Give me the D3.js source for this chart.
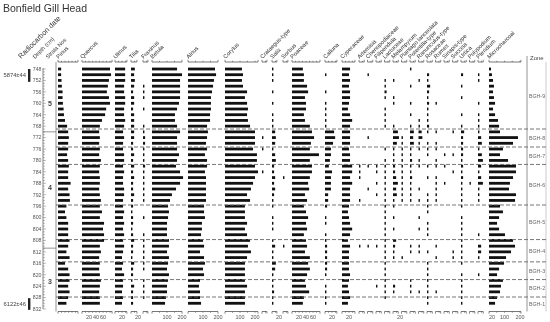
<!DOCTYPE html>
<html><head><meta charset="utf-8">
<script src="https://cdn.jsdelivr.net/npm/d3@7/dist/d3.min.js"></script>
<style>body{margin:0;background:#fff}svg{display:block;font-family:"Liberation Sans",Arial,sans-serif;will-change:transform}</style>
</head><body><svg id="c" width="550" height="322"></svg>
<script>
// ---------- DATA ----------
const depths = [748,750,752,754,756,758,760,762,764,766,768,770,772,774,776,778,780,782,784,786,788,790,792,794,796,798,800,802,804,806,808,810,812,814,816,818,820,822,824,826,828,830];
const depthTicks = [748,752,756,760,764,768,772,776,780,784,788,792,796,800,804,808,812,816,820,824,828,832];
const pinus   = [9,9,10,11,13,13,14,16,17,20,26,29,31,29,29,26,29,31,29,29,36,29,33,34,24,20,24,29,29,29,33,29,24,33,20,29,33,33,29,33,29,24];
const quercus = [80,83,77,74,71,77,80,69,66,57,51,49,51,49,51,49,54,51,49,51,51,49,51,54,51,57,51,63,60,63,63,51,54,49,51,49,51,54,51,49,51,51];
const ulmus   = [29,29,29,26,26,29,29,26,26,29,26,23,26,23,23,26,26,23,26,23,23,26,26,23,23,26,23,26,23,26,23,26,23,20,23,20,26,23,23,20,23,20];
const tilia   = [11,9,11,9,6,9,9,6,9,9,9,9,9,6,6,9,6,9,6,9,6,6,9,6,6,3,6,6,3,6,9,6,6,3,9,6,6,3,9,6,6,6];
const fraxinus= [0,0,0,3,3,3,0,3,0,0,3,3,6,6,3,3,3,6,3,3,3,3,3,3,0,0,3,0,0,3,3,3,3,3,3,3,0,3,3,3,3,0];
const betula  = [167,200,187,187,187,187,180,167,153,153,167,187,167,167,167,180,167,160,187,207,187,160,133,120,107,113,107,100,100,100,113,113,100,113,107,100,113,107,100,100,93,87];
const alnus   = [180,187,173,167,160,153,153,153,147,147,127,133,127,120,127,113,127,127,113,120,120,120,120,120,107,107,113,93,93,87,100,107,80,107,113,100,107,80,73,80,80,87];
const corylus = [113,120,113,120,147,133,147,153,147,153,167,200,200,200,187,213,213,200,220,200,187,173,147,167,133,133,133,147,133,147,167,153,173,147,133,133,133,133,147,133,133,133];
const crataegus=[0,0,0,0,0,0,0,0,0,0,0,0,3,0,3,0,0,0,3,0,0,0,0,0,0,0,0,0,0,0,0,0,0,0,0,0,0,0,0,0,0,0];
const salix   = [3,3,3,0,3,0,3,0,3,3,3,9,11,9,3,9,11,6,6,9,6,9,6,3,3,0,3,3,3,0,3,9,3,3,11,9,3,3,3,6,3,3];
const sorbus  = [0,0,0,0,0,0,0,0,0,0,0,0,0,0,0,0,0,0,0,3,0,0,0,0,0,0,0,0,0,0,0,3,0,0,0,0,0,0,0,0,0,0];
const poaceae = [31,34,34,43,46,37,40,40,34,37,51,57,63,54,51,77,51,57,57,51,46,49,37,43,34,40,46,40,43,34,40,43,37,51,46,51,43,37,40,49,34,31];
const calluna = [0,3,0,0,3,0,3,3,3,3,3,26,29,23,17,17,14,11,20,17,17,17,9,9,6,0,3,3,0,3,3,6,6,6,6,6,3,0,3,3,3,3];
const cyperaceae=[23,20,23,20,23,23,20,17,23,29,23,23,23,23,20,23,23,29,29,23,29,23,23,23,20,17,20,23,29,23,17,23,20,20,20,20,23,20,17,20,23,17];
const artemisia=[0,0,0,0,0,0,0,0,0,0,0,0,0,0,0,0,0,4,4,4,0,0,0,4,0,0,0,0,0,0,0,4,0,0,0,0,0,0,0,0,0,0];
const chenopod= [0,4,0,0,0,0,0,0,0,0,0,0,4,0,0,0,0,4,0,0,0,4,0,0,0,0,0,0,0,0,0,4,0,0,0,0,0,0,0,0,0,0];
const filipendula=[0,0,0,0,0,0,0,0,0,0,0,0,0,0,0,0,0,4,4,0,4,0,4,0,0,0,0,0,0,0,0,4,0,0,0,0,0,0,4,0,0,0];
const lactuceae=[0,0,4,4,6,4,0,4,4,4,4,0,0,0,4,0,4,4,4,4,4,4,4,4,4,4,4,4,4,4,4,4,4,4,4,4,4,4,4,4,4,0];
const melampyrum=[0,0,4,0,0,4,4,0,0,0,4,14,17,11,4,4,4,6,6,9,14,9,11,4,4,0,4,0,4,0,9,6,4,4,0,0,0,0,6,4,0,0];
const plantago= [0,0,0,0,0,0,0,0,0,0,0,0,4,4,4,4,4,4,4,4,4,4,4,4,0,0,0,0,0,0,0,0,0,4,0,0,0,0,0,0,0,0];
const potentilla=[4,0,0,4,0,0,4,0,4,0,4,11,9,11,4,4,6,4,4,6,4,4,4,4,0,0,0,0,0,0,0,4,4,0,0,0,0,4,4,4,0,0];
const ranunculus=[0,0,4,0,0,0,0,0,0,4,4,9,11,4,4,0,4,4,0,0,0,4,0,4,0,0,4,0,4,0,0,4,4,0,0,0,0,0,0,4,0,0];
const rosaceae= [0,6,4,9,6,4,6,4,4,4,6,4,0,4,4,4,0,4,0,4,0,0,4,4,4,4,0,4,4,4,0,0,4,0,4,4,4,4,4,4,4,4];
const rumex   = [0,0,0,0,0,0,4,0,0,0,0,4,0,4,4,0,4,4,0,4,4,4,4,4,0,0,0,0,0,0,0,4,0,4,0,0,0,0,0,4,0,0];
const sinapis = [0,0,0,0,0,0,0,0,0,0,0,0,0,0,0,4,0,4,0,0,4,0,0,0,0,0,0,0,0,0,0,0,0,0,0,0,0,0,0,0,0,0];
const succisa = [0,0,0,0,0,0,0,0,0,0,0,4,0,0,0,4,0,0,4,0,0,0,0,0,0,0,0,0,0,0,0,0,4,4,0,0,0,0,0,0,0,0];
const urtica  = [0,6,0,4,0,4,0,0,4,0,4,9,6,6,6,6,4,6,4,6,4,4,4,4,4,0,4,4,4,4,4,4,4,4,4,0,4,4,4,4,4,4];
const polypodium=[0,0,0,0,0,0,0,0,0,0,0,0,0,0,0,0,0,0,0,0,4,0,0,0,0,0,0,0,0,0,0,0,0,0,0,0,0,0,0,0,0,0];
const pteridium=[0,4,4,0,0,0,4,0,4,4,4,4,9,11,4,11,14,9,4,9,14,4,4,4,0,0,0,0,0,4,0,9,9,4,0,0,4,0,0,0,0,0];
const charcoal= [13,19,26,32,26,32,39,26,39,58,65,71,187,155,90,71,123,174,174,155,135,129,174,168,71,90,65,52,65,103,155,168,142,110,97,65,52,90,77,71,52,39];

const zoneBounds = [769,775.3,781.4,795.6,807.7,815.5,821.7,827.8];
const zoneNames  = ["BGH-9","BGH-8","BGH-7","BGH-6","BGH-5","BGH-4","BGH-3","BGH-2","BGH-1"];
const strataBounds = [770,810.7];
const strataNames  = ["5","4","3"];
const strataLabelDepth = [760,789.6,822.2];
const dates = ["5874±44","6122±46"];
const dateRanges = [[748,752.5],[828.2,832.3]];

// ---------- LAYOUT ----------
const PCT = 0.35, BIG = 0.15, CHR = 0.155; // px per unit
const cols = [
 {n:"Pinus",v:pinus,k:PCT,x0:58,max:57,t:[]},
 {n:"Quercus",v:quercus,k:PCT,x0:82,max:86,t:[20,40,60]},
 {n:"Ulmus",v:ulmus,k:PCT,x0:115,max:34,t:[20]},
 {n:"Tilia",v:tilia,k:PCT,x0:131,max:17,t:[20]},
 {n:"Fraxinus",v:fraxinus,k:PCT,x0:143,max:14,t:[]},
 {n:"Betula",v:betula,k:BIG,x0:152,max:200,t:[100,200]},
 {n:"Alnus",v:alnus,k:BIG,x0:188,max:200,t:[100,200]},
 {n:"Corylus",v:corylus,k:BIG,x0:225,max:220,t:[100,200]},
 {n:"Crataegus-type",v:crataegus,k:PCT,x0:262,max:14,t:[]},
 {n:"Salix",v:salix,k:PCT,x0:272,max:14,t:[20]},
 {n:"Sorbus",v:sorbus,k:PCT,x0:283,max:14,t:[]},
 {n:"Poaceae",v:poaceae,k:PCT,x0:292,max:80,t:[20,40,60]},
 {n:"Calluna",v:calluna,k:PCT,x0:325,max:34,t:[20]},
 {n:"Cyperaceae",v:cyperaceae,k:PCT,x0:342,max:37,t:[20]}
];
const small = [["Artemisia",artemisia],["Chenopodiaceae",chenopod],["Filipendula",filipendula],["Lactuceae",lactuceae],["Melampyrum",melampyrum],["Plantago lanceolata",plantago],["Potentilla-type",potentilla],["Ranunculus-type",ranunculus],["Rosaceae",rosaceae],["Rumex",rumex],["Sinapis-type",sinapis],["Succisa",succisa],["Urtica",urtica],["Polypodium",polypodium],["Pteridium",pteridium]];
small.forEach((s,i)=>cols.push({n:s[0],v:s[1],k:PCT,x0:359+8.5*i,max:15,t:i===4?[20]:[]}));
cols.push({n:"Microcharcoal",v:charcoal,k:CHR,x0:489,max:206,t:[20,100,200]});

const TOP=62, BOT=311.5, LEFT=56, ZL=527, ZR=546;
const svg=d3.select("#c");
const y=d3.scaleLinear().domain([748,832]).range([69,309]);

svg.append("text").attr("x",3).attr("y",12).attr("font-size",10.5).attr("fill","#333").text("Bonfield Gill Head");

const hl=[["Radiocarbon date",21,59,7.2],["Depth (cm)",35,59,5.6],["Strata Nos",48,59,5.6]];
hl.forEach(h=>svg.append("text").attr("transform",`translate(${h[1]},${h[2]}) rotate(-45)`).attr("font-size",h[3]).attr("fill","#333").text(h[0]));

cols.forEach(c=>{
  const x=d3.scaleLinear().domain([0,100]).range([c.x0,c.x0+100*c.k]);
  const step=c.k===PCT?10:50;
  const g=svg.append("g");
  g.append("text").attr("transform",`translate(${c.x0+0.5},${TOP-3}) rotate(-45)`).attr("font-size",5.8).attr("fill","#333").text(c.n);
  [[TOP,-1],[BOT,1]].forEach(([yy,dir])=>{
    g.append("line").attr("x1",x(0)).attr("x2",x(c.max)).attr("y1",yy).attr("y2",yy).attr("stroke","#555").attr("stroke-width",0.8);
    const tv=d3.range(0,c.max+0.01,step); if(tv[tv.length-1]!==c.max) tv.push(c.max);
    tv.forEach((t,i)=>{const end=(i===0||t===c.max);
      g.append("line").attr("x1",x(t)).attr("x2",x(t)).attr("y1",yy).attr("y2",yy+dir*(end?2.2:1.2)).attr("stroke","#555").attr("stroke-width",0.7);});
  });
  c.t.forEach(t=>g.append("text").attr("x",x(t)).attr("y",319).attr("text-anchor","middle").attr("font-size",5.5).attr("fill","#555").text(t));
  g.selectAll("rect").data(depths.map((d,i)=>({d,v:c.v[i]})).filter(o=>o.v>0)).join("rect")
    .attr("x",x(0)).attr("y",o=>y(o.d)-1.4).attr("width",o=>Math.max(1.4,x(o.v)-x(0))).attr("height",2.8).attr("fill","#111");
});

svg.append("line").attr("x1",LEFT).attr("x2",LEFT).attr("y1",TOP).attr("y2",BOT).attr("stroke","#777").attr("stroke-width",0.8);
svg.append("line").attr("x1",43).attr("x2",43).attr("y1",y(748)-1).attr("y2",y(832)).attr("stroke","#666").attr("stroke-width",0.8);
d3.range(748,833,1).forEach(d=>svg.append("line").attr("x1",43).attr("x2",d%4===0?45.8:44.8).attr("y1",y(d)).attr("y2",y(d)).attr("stroke","#666").attr("stroke-width",0.5));
depthTicks.forEach(d=>svg.append("text").attr("x",41.5).attr("y",y(d)+1.8).attr("text-anchor","end").attr("font-size",5.2).attr("fill","#555").text(d));

dates.forEach((t,i)=>{
  const r=dateRanges[i];
  svg.append("rect").attr("x",28).attr("y",y(r[0])).attr("width",2.4).attr("height",y(r[1])-y(r[0])).attr("fill","#222");
  svg.append("text").attr("x",26).attr("y",(y(r[0])+y(r[1]))/2+2).attr("text-anchor","end").attr("font-size",5.8).attr("fill","#444").text(t);
});

strataBounds.forEach(b=>svg.append("line").attr("x1",43).attr("x2",LEFT).attr("y1",y(b)).attr("y2",y(b)).attr("stroke","#777").attr("stroke-width",0.8));
strataNames.forEach((s,i)=>svg.append("text").attr("x",50).attr("y",y(strataLabelDepth[i])+2.5).attr("text-anchor","middle").attr("font-size",7).attr("font-weight","bold").attr("fill","#444").text(s));

svg.append("line").attr("x1",ZL).attr("x2",ZL).attr("y1",56).attr("y2",BOT).attr("stroke","#888").attr("stroke-width",0.9);
svg.append("line").attr("x1",ZR).attr("x2",ZR).attr("y1",TOP).attr("y2",BOT).attr("stroke","#aaa").attr("stroke-width",0.6);
svg.append("text").attr("x",530).attr("y",60).attr("font-size",6).attr("fill","#444").text("Zone");
zoneBounds.forEach(b=>svg.append("line").attr("x1",LEFT).attr("x2",ZR).attr("y1",y(b)).attr("y2",y(b)).attr("stroke","#666").attr("stroke-width",0.9).attr("stroke-dasharray","4,2"));
const zEdges=[y.invert(TOP),...zoneBounds,y.invert(BOT)];
zoneNames.forEach((z,i)=>svg.append("text").attr("x",537).attr("y",(y(zEdges[i])+y(zEdges[i+1]))/2+2).attr("text-anchor","middle").attr("font-size",5.3).attr("fill","#666").text(z));
</script></body></html>
